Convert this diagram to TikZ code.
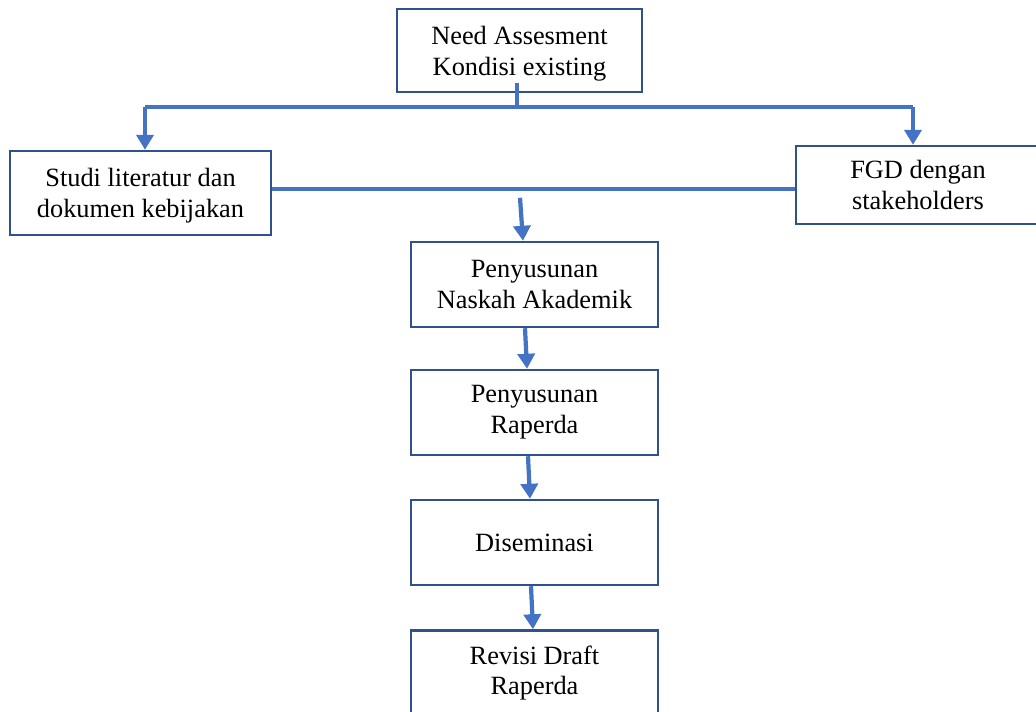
\documentclass[tikz,border=0pt]{standalone}
\usepackage{fontspec}
\setmainfont{Liberation Serif}
\usetikzlibrary{arrows.meta}
\usepackage{xcolor}
\definecolor{boxblue}{HTML}{2F528F}
\definecolor{lineblue}{HTML}{4472C4}

\begin{document}
\begin{tikzpicture}[x=0.02cm,y=-0.02cm,
    box/.style={draw=boxblue,line width=1.4pt,align=center,inner sep=0pt,
      font=\fontsize{15}{17.6}\selectfont},
    line/.style={draw=lineblue,line width=2.4pt},
    arr/.style={line,-{Triangle[width=0.34cm,length=0.3cm]}}]
      \useasboundingbox (0,0) rectangle (1036,711);
      \node[box,minimum width=4.9cm,minimum height=1.66cm,text depth=-6pt] (need) at (519.5,50.5) {Need Assesment\\Kondisi existing};
      \node[box,minimum width=5.22cm,minimum height=1.68cm,text depth=-4pt] (studi) at (140.5,193) {Studi literatur dan\\dokumen kebijakan};
      \node[box,minimum width=4.88cm,minimum height=1.56cm] (fgd) at (918,185) {FGD dengan\\stakeholders};
      \node[box,minimum width=4.94cm,minimum height=1.70cm] (na) at (534.5,284.5) {Penyusunan\\Naskah Akademik};
      \node[box,minimum width=4.94cm,minimum height=1.70cm] (rap) at (534.5,412.5) {Penyusunan\\Raperda};
      \node[box,minimum width=4.94cm,minimum height=1.70cm] (dis) at (534.5,542.5) {Diseminasi};
      \node[box,minimum width=4.94cm,minimum height=1.70cm] (rev) at (534.5,673) {Revisi Draft\\Raperda};
      % split from the top box
      \coordinate (jn) at (517,107);
      \coordinate (jl) at (145,107);
      \coordinate (jr) at (913,107);
      \coordinate (mid) at (520,189);
      \draw[line] ([yshift=6pt]need.south -| jn) -- (jn);
      \draw[line] (jl) -- (jr);
      \draw[arr] (jl) -- (studi.north -| jl);
      \draw[arr] (jr) -- (fgd.north -| jr);
      % join of the two branches
      \draw[line] (studi.east |- mid) -- (fgd.west |- mid);
      \draw[arr] ([yshift=-5pt]mid) -- ([xshift=-0.23cm]na.north);
      \draw[arr] ([xshift=-0.19cm]na.south) -- ([xshift=-0.15cm]rap.north);
      \draw[arr] ([xshift=-0.13cm]rap.south) -- ([xshift=-0.09cm]dis.north);
      \draw[arr] ([xshift=-0.07cm]dis.south) -- ([xshift=-0.03cm]rev.north);
\end{tikzpicture}
\end{document}
